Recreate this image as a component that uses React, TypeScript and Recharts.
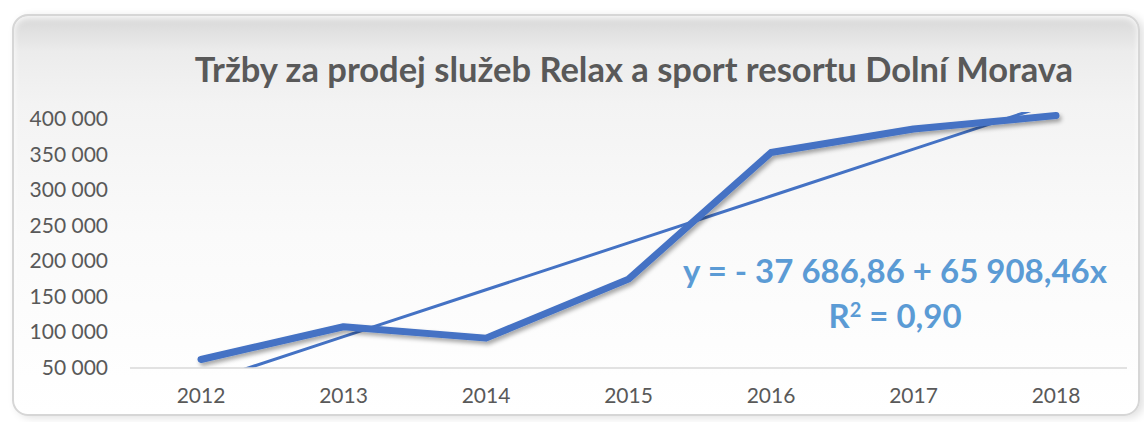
import React from "react";
import { LineChart, Line, XAxis, YAxis } from "recharts";

const years = ["2012", "2013", "2014", "2015", "2016", "2017", "2018"];
const sales = [62000, 108000, 92000, 175000, 353000, 386000, 405000];
const trend = [28222, 94130, 160039, 225947, 291856, 357764, 423673];
const yTicks = [50000, 100000, 150000, 200000, 250000, 300000, 350000, 400000];

const data = years.map((year, i) => ({ year, sales: sales[i], trend: trend[i] }));

const fmt = (v: number) => v.toLocaleString("cs-CZ").replace(/\s/g, " ");

const YTick = (props: any) => {
  const { x, y, payload } = props;
  return (
    <text x={x - 14} y={y} dy={7} textAnchor="end" fill="#595959" fontSize={21} fontFamily="Lato">
      {fmt(payload.value)}
    </text>
  );
};

const App = () => {
  return (
    <div style={{ position: "absolute", left: 0, top: 0, width: 1144, height: 422, background: "#fff", overflow: "hidden" }}>
      <div
        style={{
          position: "absolute",
          left: 12,
          top: 14,
          width: 1124,
          height: 398,
          borderRadius: 16,
          border: "2px solid #d6d6d6",
          background: "linear-gradient(to bottom, #d8d8d8 0%, #ececec 9%, #f3f3f3 22%, #fafafa 55%, #ffffff 100%)",
          boxShadow: "inset 0 2px 6px rgba(255,255,255,0.9), 4px 2px 8px rgba(0,0,0,0.12)",
        }}
      />
      <div
        style={{
          position: "absolute",
          left: 130,
          width: 1008,
          top: 48,
          textAlign: "center",
          fontFamily: "Lato",
          fontWeight: 700,
          fontSize: 34.5,
          color: "#595959",
        }}
      >
        Tržby za prodej služeb Relax a sport resortu Dolní Morava
      </div>
      <div style={{ position: "absolute", left: 0, top: 0 }}>
        <LineChart width={1144} height={422} data={data} margin={{ top: 112, right: 17, bottom: 24, left: 0 }}>
          <defs>
            <filter id="lineShadow" x="-5%" y="-20%" width="110%" height="140%">
              <feDropShadow dx="2" dy="3" stdDeviation="2" floodColor="#000" floodOpacity="0.35" />
            </filter>
          </defs>
          <XAxis
            dataKey="year"
            height={30}
            padding={{ left: 71, right: 71 }}
            tickLine={false}
            axisLine={{ stroke: "#d9d9d9", strokeWidth: 1.5 }}
            tick={{ fill: "#595959", fontSize: 21, fontFamily: "Lato" }}
            tickMargin={14}
          />
          <YAxis
            width={130}
            domain={[50000, 410000]}
            ticks={yTicks}
            allowDataOverflow
            axisLine={false}
            tickLine={false}
            tick={<YTick />}
          />
          <Line
            dataKey="trend"
            stroke="#4472C4"
            strokeWidth={3}
            dot={false}
            isAnimationActive={false}
          />
          <Line
            dataKey="sales"
            stroke="#4472C4"
            strokeWidth={7}
            strokeLinecap="round"
            strokeLinejoin="round"
            dot={false}
            filter="url(#lineShadow)"
            isAnimationActive={false}
          />
        </LineChart>
      </div>
      <div
        style={{
          position: "absolute",
          left: 640,
          width: 510,
          top: 248,
          textAlign: "center",
          fontFamily: "Lato",
          fontWeight: 700,
          fontSize: 33,
          lineHeight: "45px",
          color: "#5B9BD5",
        }}
      >
        <div>y = - 37 686,86 + 65 908,46x</div>
        <div>
          R<sup style={{ fontSize: 20, verticalAlign: "top", lineHeight: "32px" }}>2</sup> = 0,90
        </div>
      </div>
    </div>
  );
};

export default App;
